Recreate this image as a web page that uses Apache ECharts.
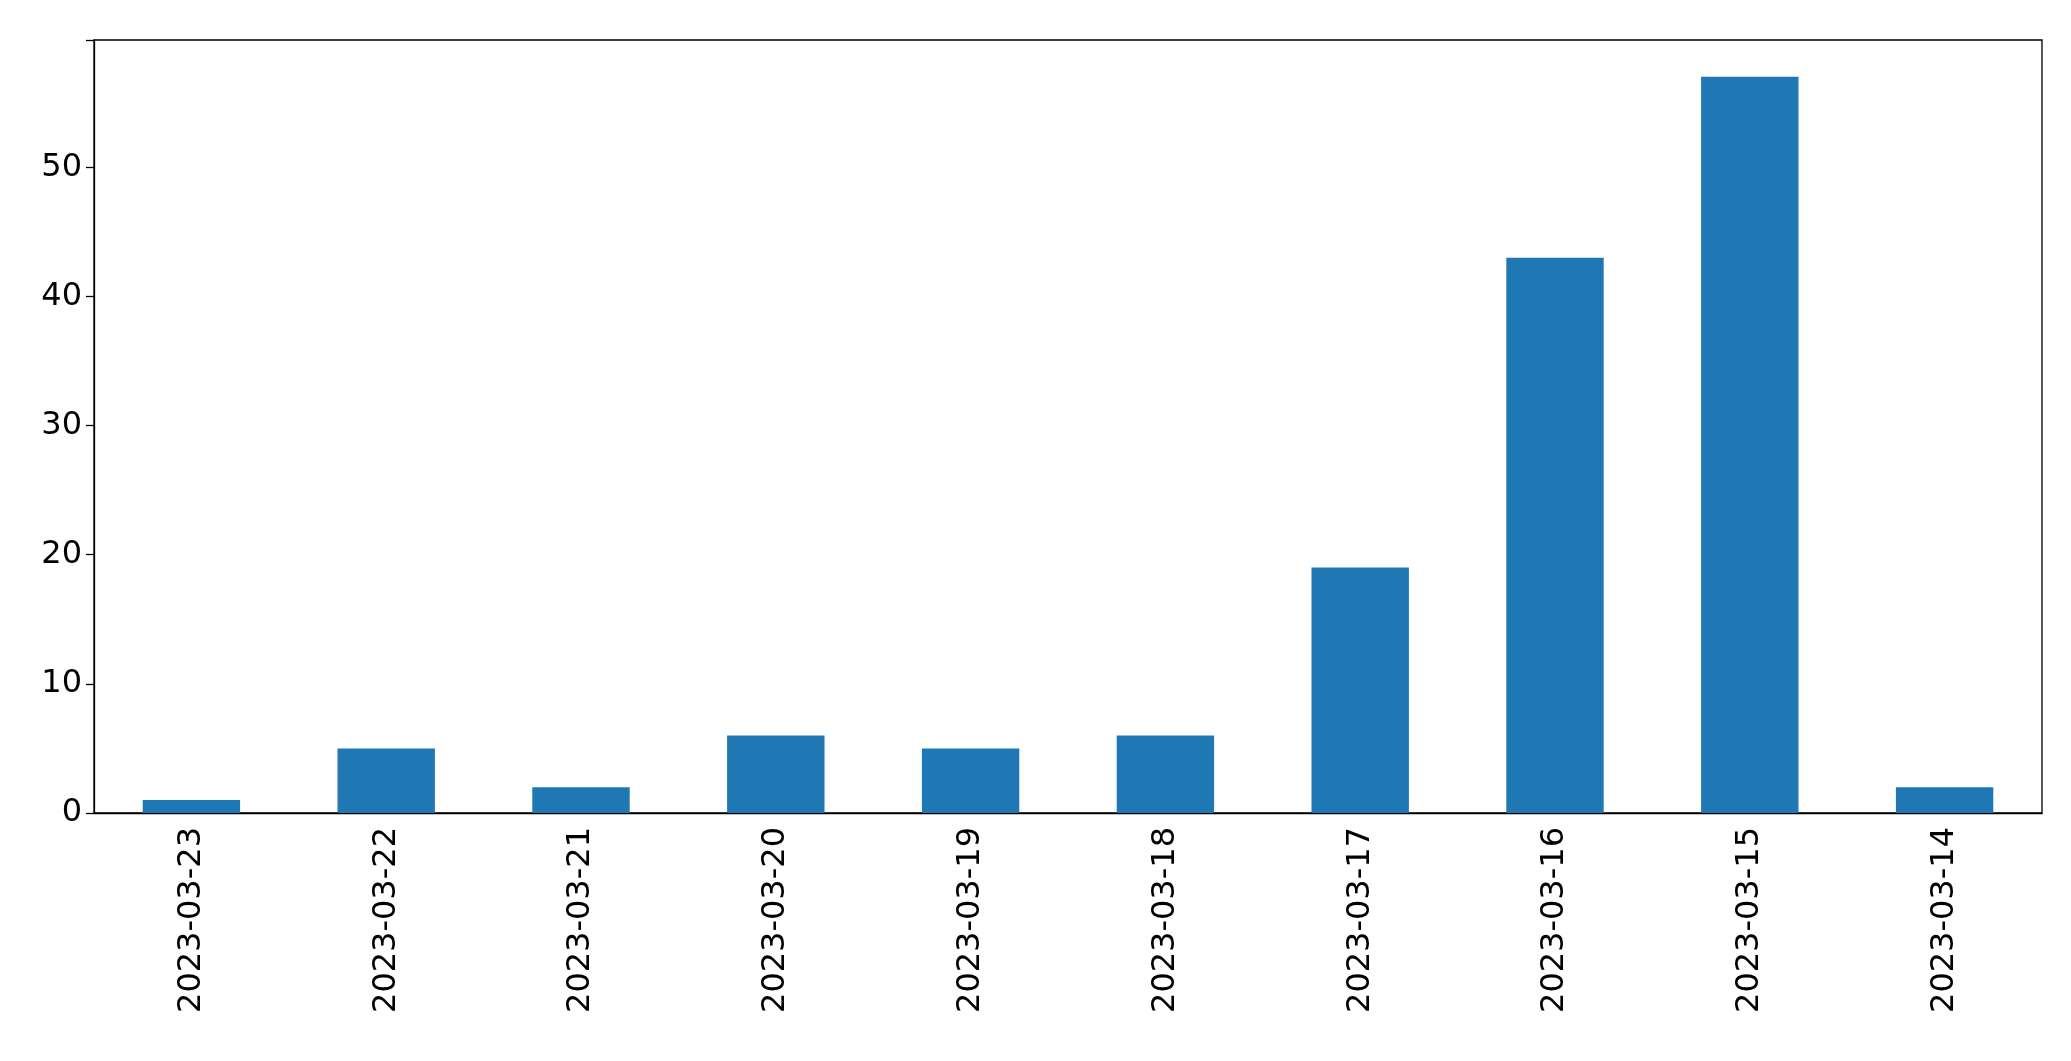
<!DOCTYPE html>
<html>
<head>
<meta charset="utf-8">
<script src="https://cdn.jsdelivr.net/npm/echarts@6/dist/echarts.min.js"></script>
<style>html,body{margin:0;padding:0;background:#fff}#chart{width:2071px;height:1061px}</style>
</head>
<body>
<div id="chart"></div>
<script>
// data
var dates = ['2023-03-23','2023-03-22','2023-03-21','2023-03-20','2023-03-19','2023-03-18','2023-03-17','2023-03-16','2023-03-15','2023-03-14'];
var counts = [1, 5, 2, 6, 5, 6, 19, 43, 57, 2];

var myChart = echarts.init(document.getElementById('chart'), null, {renderer: 'canvas'});
var font = 'DejaVu Sans';
var option = {
  animation: false,
  grid: {
    left: 94, right: 29, top: 40, bottom: 248,
    show: true, borderColor: '#000', borderWidth: 1.3, backgroundColor: 'transparent'
  },
  xAxis: {
    type: 'category',
    data: dates,
    axisLine: {lineStyle: {color: '#000', width: 1.3}},
    axisTick: {alignWithLabel: true, length: 8, lineStyle: {color: '#000', width: 1.3}},
    axisLabel: {rotate: 90, color: '#000', fontSize: 32, fontFamily: font, margin: 14}
  },
  yAxis: {
    type: 'value',
    min: 0, max: 59.85, interval: 10,
    splitLine: {show: false},
    axisLine: {show: true, lineStyle: {color: '#000', width: 1.3}},
    axisTick: {show: true, length: 8, lineStyle: {color: '#000', width: 1.3}},
    axisLabel: {color: '#000', fontSize: 32, fontFamily: font, margin: 12,
      formatter: function (v) { return v % 10 === 0 ? v : ''; }}
  },
  series: [{
    type: 'bar',
    data: counts,
    barWidth: '50%',
    itemStyle: {color: '#1f77b4'}
  }]
};
myChart.setOption(option);
</script>
</body>
</html>
